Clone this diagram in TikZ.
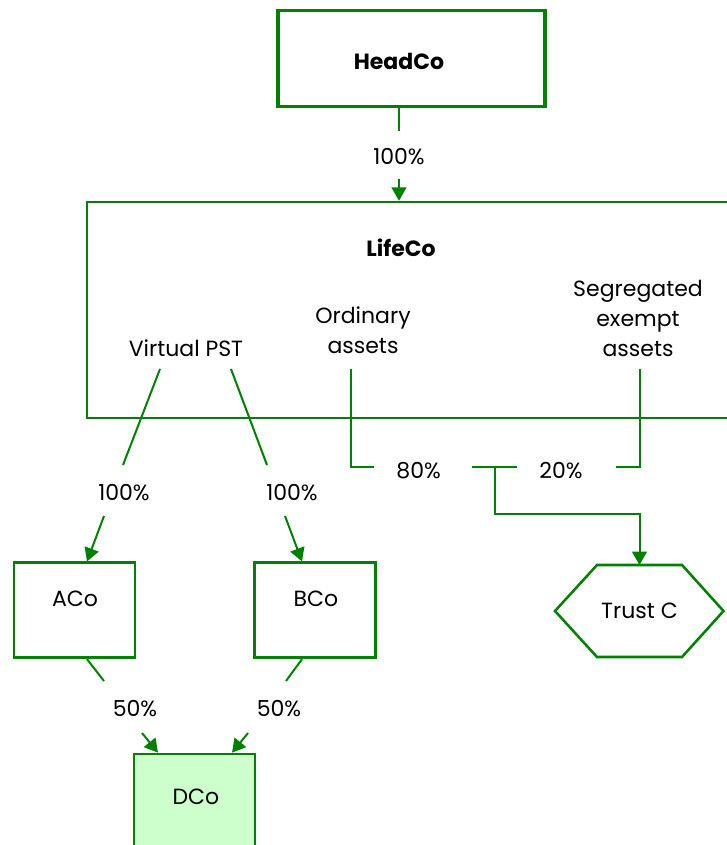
\documentclass[tikz,border=0pt]{standalone}
\usepackage{fontspec}
\setmainfont{Poppins}
\usetikzlibrary{arrows.meta,calc}
\definecolor{lg}{RGB}{0,128,0}
\definecolor{dfill}{RGB}{204,255,204}
\begin{document}
\begin{tikzpicture}[x=0.75pt,y=-0.75pt,
  every node/.style={font=\fontsize{16.5}{20}\selectfont, text=black, inner sep=0pt},
  bold/.style={font=\fontsize{16.5}{20}\selectfont\bfseries},
  two/.style={align=center, font=\fontsize{16.5}{22.5}\selectfont},
  conn/.style={draw=lg, line width=1.5pt},
  arr/.style={conn, -{Triangle[length=10pt,width=11pt]}},
  box/.style={draw=lg, line width=2pt, minimum width=90.75pt, minimum height=71.25pt, fill=white},
  hexline/.style={draw=lg, line width=1.9pt},
]
\useasboundingbox (0,0) rectangle (727,845);
\clip (0,0) rectangle (727,845);

% HeadCo
\node[box, minimum width=200.25pt, minimum height=72pt, line width=2.4pt] (HeadBox) at (411.5,58.7) {};
\node[bold] (HeadCo) at (399,61) {HeadCo};

% LifeCo
\node[draw=lg, line width=1.8pt, minimum width=510pt, minimum height=162pt] (LifeBox) at (427,310) {};
\node[bold] (LifeCo) at (401,248) {LifeCo};
\node (VPST) at (186,348) {Virtual PST};
\node[two] (Ord) at (363,330) {Ordinary\\assets};
\node[two] (Seg) at (638,318) {Segregated\\exempt\\assets};

% HeadCo -> LifeCo
\node (P100) at (399,157) {100\%};
\draw[conn] (HeadBox.south -| P100) -- ++(0,22.3);
\draw[arr] ($(LifeBox.north -| P100)+(0,-22)$) -- (LifeBox.north -| P100);

% subsidiaries
\node[box] (ABox) at (74.5,610.3) {};
\node (ACo) at (75,599) {ACo};
\node[box] (BBox) at (315,610.3) {};
\node (BCo) at (316,599) {BCo};
\node[box, fill=dfill] (DBox) at (194.5,801.5) {};
\node (DCo) at (196,797) {DCo};

% Virtual PST -> ACo / BCo
\coordinate (vL) at (160,369);
\coordinate (vR) at (231,369);
\node (PA) at (124,493) {100\%};
\node (PB) at (292,493) {100\%};
\draw[conn] (vL) -- (123,465);
\draw[arr] (104,516) -- ($(ABox.north)+(12.5,0)$);
\draw[conn] (vR) -- (267,465);
\draw[arr] (285,516) -- ($(BBox.north)+(-13,0)$);

% ACo / BCo -> DCo
\node (PD1) at (135,709) {50\%};
\node (PD2) at (279,709) {50\%};
\draw[conn] ($(ABox.south)+(12.5,0)$) -- (104,681);
\draw[arr] (142,733) -- ($(DBox.north)+(-36.5,0)$);
\draw[conn] ($(BBox.south)+(-13,0)$) -- (286,681);
\draw[arr] (248,733) -- ($(DBox.north)+(37.5,0)$);

% Ordinary / Segregated -> Trust C
\node (TrustC) at (639.5,611) {Trust C};
\draw[hexline] ($(TrustC)+(-84.5,0)$) -- ++(42,-46) -- ++(85,0) -- ++(41.5,46) -- ++(-41.5,46) -- ++(-85,0) -- cycle;
\coordinate (oL) at (351,369);
\coordinate (sR) at (640,369);
\node (P80) at (418.6,471) {80\%};
\node (P20) at (561,471) {20\%};
\draw[conn] (oL) |- (374,467);
\draw[conn] (sR) |- (616,467);
\draw[conn] (472,467) -- (517,467);
\draw[arr] (495,467) -- (495,514) -| ($(TrustC)+(0,-46)$);
\end{tikzpicture}
\end{document}
